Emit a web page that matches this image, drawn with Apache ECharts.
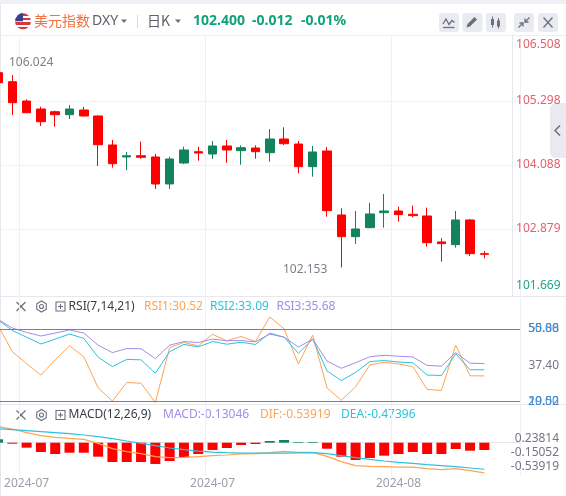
<!DOCTYPE html>
<html>
<head>
<meta charset="utf-8">
<title>美元指数 DXY 日K</title>
<script src="https://cdn.jsdelivr.net/npm/echarts@6.0.0/dist/echarts.min.js"></script>
<style>
  html, body { margin: 0; padding: 0; background: #ffffff; }
  #main { width: 566px; height: 496px; }
</style>
</head>
<body>
<div id="main"></div>
<script>
// 日K 行情
const dates = ['2024-07-02','2024-07-03','2024-07-04','2024-07-05','2024-07-08','2024-07-09','2024-07-10','2024-07-11','2024-07-12','2024-07-15','2024-07-16','2024-07-17','2024-07-18','2024-07-19','2024-07-22','2024-07-23','2024-07-24','2024-07-25','2024-07-26','2024-07-29','2024-07-30','2024-07-31','2024-08-01','2024-08-02','2024-08-05','2024-08-06','2024-08-07','2024-08-08','2024-08-09','2024-08-12','2024-08-13','2024-08-14','2024-08-15','2024-08-16','2024-08-19'];
const opens  = [105.833,105.663,105.298,105.147,105.096,105.039,105.128,105.015,104.467,104.240,104.264,104.240,103.730,104.126,104.340,104.296,104.448,104.359,104.410,104.321,104.580,104.485,104.057,104.353,103.144,102.734,102.904,103.187,103.219,103.157,103.125,102.634,102.583,103.049,102.412];
const closes = [105.644,105.266,105.077,104.907,105.039,105.147,105.015,104.472,104.113,104.264,104.234,103.730,104.202,104.372,104.315,104.448,104.372,104.416,104.340,104.580,104.491,104.057,104.334,103.225,102.734,102.879,103.163,103.219,103.150,103.131,102.620,102.602,103.049,102.412,102.400];
const lows   = [105.560,105.033,105.070,104.826,104.812,104.958,105.001,104.070,104.038,103.994,104.208,103.635,103.635,104.108,104.170,104.202,104.132,104.094,104.208,104.151,104.467,103.932,103.868,103.112,102.153,102.596,102.893,102.904,103.017,103.100,102.545,102.261,102.526,102.369,102.326];
const highs  = [106.024,105.789,105.330,105.190,105.115,105.222,105.185,105.028,104.561,104.334,104.529,104.296,104.245,104.434,104.434,104.542,104.561,104.461,104.461,104.769,104.801,104.542,104.448,104.429,103.270,103.219,103.371,103.541,103.301,103.320,103.282,102.704,103.219,103.062,102.464];

// RSI(7,14,21)
const rsi1 = [51.5,40.6,35.6,30.9,37.2,43.0,38.5,25.6,20.1,27.8,27.5,19.52,42.3,44.4,43.0,47.8,45.1,46.9,44.8,55.0,50.1,35.5,47.5,25.6,20.4,26.0,35.1,36.2,35.5,34.4,24.9,24.5,43.3,30.6,30.52];
const rsi2 = [53.8,49.4,46.6,43.8,45.8,47.9,46.1,38.3,34.4,37.4,37.2,31.6,40.6,43.6,42.6,44.8,43.7,44.5,43.6,48.3,46.6,39.9,45.8,32.6,28.6,32.0,36.5,36.9,36.3,36.0,30.9,30.7,39.7,33.1,33.09];
const rsi3 = [54.0,50.4,48.6,47.1,48.3,49.6,48.3,43.3,40.2,41.9,41.8,37.7,43.3,44.8,44.4,45.8,45.1,45.2,44.7,47.9,46.6,42.5,45.8,36.7,33.7,36.0,38.5,39.1,38.7,38.4,34.9,34.6,40.2,35.8,35.68];

// MACD(12,26,9)
const dif  = [0.290,0.244,0.179,0.125,0.095,0.077,0.060,-0.012,-0.107,-0.161,-0.196,-0.250,-0.268,-0.262,-0.250,-0.232,-0.220,-0.202,-0.196,-0.179,-0.155,-0.173,-0.173,-0.244,-0.339,-0.411,-0.423,-0.429,-0.435,-0.435,-0.464,-0.482,-0.464,-0.500,-0.53919];
const dea  = [0.247,0.232,0.214,0.196,0.179,0.161,0.137,0.107,0.071,0.030,-0.012,-0.054,-0.095,-0.125,-0.149,-0.167,-0.179,-0.185,-0.188,-0.188,-0.185,-0.182,-0.179,-0.196,-0.232,-0.268,-0.298,-0.327,-0.351,-0.369,-0.393,-0.411,-0.429,-0.452,-0.47396];
const macd = [0.060,-0.018,-0.089,-0.166,-0.202,-0.179,-0.179,-0.250,-0.345,-0.345,-0.345,-0.380,-0.327,-0.255,-0.202,-0.130,-0.095,-0.041,-0.023,0.030,0.048,0.012,0.012,-0.107,-0.250,-0.309,-0.273,-0.232,-0.202,-0.166,-0.202,-0.202,-0.113,-0.143,-0.13046];

// 坐标轴刻度
const priceTicks = [101.669, 102.879, 104.088, 105.298, 106.508];
const rsiTicks = [19.52, 37.40, 55.88];
const rsiLevels = [50, 20];
const macdTicks = [-0.53919, -0.15052, 0.23814];

const FONT = '"Noto Sans", "Noto Sans CJK SC", sans-serif';
const green = '#13835b';
const red = '#ff0000';
const upText = '#e5606c';
const downText = '#1aa884';
const axisGray = '#737784';
const iconGray = '#6c707c';
const c1 = '#ffa352', c2 = '#2bc3de', c3 = '#a68be8';
const refBlue = '#3591e6';

const cats = dates.concat(['', '']);
const ohlc = dates.map((d, i) => [opens[i], closes[i], lows[i], highs[i]]);
const n = dates.length;
const lastClose = closes[n - 1];
const change = lastClose - closes[n - 2];
const changePct = change / closes[n - 2] * 100;
const fmtSigned = (v, d) => (v > 0 ? '+' : '') + v.toFixed(d);

const showIdx = (i) => i % 13 === 2;

// 价格刻度：上下两端的标签往里收
const priceRich = {};
[['u', upText], ['d', downText]].forEach(([k, c]) => {
  priceRich[k + 'T'] = { color: c, fontSize: 12, fontFamily: FONT, padding: [16, 0, 0, 0] };
  priceRich[k + 'M'] = { color: c, fontSize: 12, fontFamily: FONT };
  priceRich[k + 'B'] = { color: c, fontSize: 12, fontFamily: FONT, padding: [0, 0, 14, 0] };
});
const priceLabel = (val) => {
  const v = Number(val);
  const c = v >= lastClose ? 'u' : 'd';
  const top = Math.abs(v - priceTicks[priceTicks.length - 1]) < 1e-6;
  const bottom = Math.abs(v - priceTicks[0]) < 1e-6;
  const p = top ? 'T' : bottom ? 'B' : 'M';
  return '{' + c + p + '|' + v.toFixed(3) + '}';
};

const xAxisFor = (gi, withLabel) => ({
  type: 'category', gridIndex: gi, data: cats, boundaryGap: true,
  axisLine: { show: withLabel, lineStyle: { color: '#e4e6eb' } },
  axisTick: { show: false },
  axisLabel: {
    show: withLabel, interval: showIdx, formatter: (v) => v.slice(0, 7),
    color: '#9a9ea8', fontSize: 12, fontFamily: FONT, margin: 2
  },
  splitLine: { show: true, interval: showIdx, lineStyle: { color: '#eef0f4', width: 1 } }
});

const gridBase = { left: -9.15, right: 45.9, outerBoundsMode: 'none', containLabel: false };

// 顶部与面板标题的小图标
const ln = (x1, y1, x2, y2, color, w) => ({
  type: 'line', silent: true, shape: { x1, y1, x2, y2 },
  style: { stroke: color, lineWidth: w || 1 }
});
const txt = (x, y, text, color, font) => ({
  type: 'text', silent: true, x, y,
  style: { text, fill: color, font: font || ('12px ' + FONT), verticalAlign: 'middle', align: 'left' }
});
const panelIcons = (yc) => {
  const hex = [];
  for (let i = 0; i < 6; i++) {
    const a = Math.PI / 6 + i * Math.PI / 3;
    hex.push([41.5 + 5.5 * Math.cos(a), yc + 5.5 * Math.sin(a)]);
  }
  return [
    ln(16.5, yc - 4.5, 25.5, yc + 4.5, iconGray, 1.2),
    ln(25.5, yc - 4.5, 16.5, yc + 4.5, iconGray, 1.2),
    { type: 'polygon', silent: true, shape: { points: hex }, style: { fill: 'none', stroke: iconGray, lineWidth: 1.1 } },
    { type: 'circle', silent: true, shape: { cx: 41.5, cy: yc, r: 2 }, style: { fill: 'none', stroke: iconGray, lineWidth: 1.1 } },
    { type: 'rect', silent: true, shape: { x: 56, y: yc - 4.5, width: 9, height: 9 }, style: { fill: 'none', stroke: iconGray, lineWidth: 1.1 } },
    ln(58, yc, 63, yc, iconGray, 1.1),
    ln(60.5, yc - 2.5, 60.5, yc + 2.5, iconGray, 1.1)
  ];
};

const stripeStops = [];
for (let i = 0; i < 7; i++) {
  const col = i % 2 === 0 ? '#d9363e' : '#ffffff';
  stripeStops.push({ offset: i / 7, color: col }, { offset: (i + 1) / 7, color: col });
}

const buttons = [439, 462.5, 486, 514, 538].map((x) => ({
  type: 'rect', silent: true, shape: { x, y: 13, width: 20, height: 19, r: 3 },
  style: { fill: '#e9ebf0' }
}));

const graphics = [
  { type: 'rect', silent: true, shape: { x: 0, y: 0, width: 566, height: 4 }, style: { fill: '#edf0f5' } },
  ln(0.5, 4, 0.5, 496, '#e3e6ed'),
  ln(0, 35.5, 566, 35.5, '#eceef2'),
  ln(0, 296.5, 566, 296.5, '#e6e8ed'),
  ln(0, 404.5, 566, 404.5, '#e6e8ed'),
  // 国旗
  { type: 'circle', silent: true, shape: { cx: 23, cy: 21.3, r: 8 },
    style: { fill: new echarts.graphic.LinearGradient(0, 0, 0, 1, stripeStops) } },
  { type: 'sector', silent: true, shape: { cx: 23, cy: 21.3, r: 8, r0: 0, startAngle: Math.PI, endAngle: Math.PI * 1.5 },
    style: { fill: '#3b3f8f' } },
  txt(34, 21, '美元指数', '#f5703c', '14px "Noto Sans CJK SC", sans-serif'),
  txt(92, 21, 'DXY', '#5d616c', '14px ' + FONT),
  { type: 'polygon', silent: true, shape: { points: [[121, 19.5], [127, 19.5], [124, 23]] }, style: { fill: '#6c707c' } },
  ln(137.5, 15, 137.5, 28, '#d8dbe1'),
  txt(147, 21, '日K', '#5d616c', '14px "Noto Sans CJK SC", sans-serif'),
  { type: 'polygon', silent: true, shape: { points: [[175, 19.5], [181, 19.5], [178, 23]] }, style: { fill: '#6c707c' } },
  txt(193, 21, lastClose.toFixed(3), '#12a27a', 'bold 14px ' + FONT),
  txt(252, 21, fmtSigned(change, 3), '#12a27a', 'bold 14px ' + FONT),
  txt(301, 21, fmtSigned(changePct, 2) + '%', '#12a27a', 'bold 14px ' + FONT),
  ...buttons,
  // 指标
  { type: 'polyline', silent: true, shape: { points: [[443, 24], [446, 19], [449, 24.5], [452, 20.5], [454.5, 22.5]] }, style: { fill: 'none', stroke: iconGray, lineWidth: 1.3 } },
  ln(443, 27.5, 454.5, 27.5, iconGray, 1.3),
  // 画线
  { type: 'polygon', silent: true, shape: { points: [[466.5, 27.5], [467.5, 24], [474.5, 17], [477, 19.5], [470, 26.5]] }, style: { fill: iconGray } },
  // K线
  ln(492.5, 16.5, 492.5, 27.5, iconGray, 1),
  { type: 'rect', silent: true, shape: { x: 491, y: 19, width: 3, height: 6 }, style: { fill: iconGray } },
  ln(498.5, 18, 498.5, 28.5, iconGray, 1),
  { type: 'rect', silent: true, shape: { x: 497, y: 20.5, width: 3, height: 6 }, style: { fill: iconGray } },
  // 缩小
  ln(518.5, 27.5, 523, 23, iconGray, 1.3),
  { type: 'polyline', silent: true, shape: { points: [[519.5, 23], [523, 23], [523, 26.5]] }, style: { fill: 'none', stroke: iconGray, lineWidth: 1.3 } },
  ln(529.5, 17.5, 525, 22, iconGray, 1.3),
  { type: 'polyline', silent: true, shape: { points: [[525, 18.5], [525, 22], [528.5, 22]] }, style: { fill: 'none', stroke: iconGray, lineWidth: 1.3 } },
  // 关闭
  ln(543.5, 17.5, 552.5, 27.5, iconGray, 1.3),
  ln(552.5, 17.5, 543.5, 27.5, iconGray, 1.3),
  // 右侧收起
  { type: 'rect', silent: true, shape: { x: 550, y: 103, width: 16, height: 55, r: [6, 0, 0, 6] }, style: { fill: '#e9eaf0' } },
  { type: 'polyline', silent: true, shape: { points: [[560, 125.5], [555, 130.5], [560, 135.5]] }, style: { fill: 'none', stroke: iconGray, lineWidth: 1.5 } },
  // RSI 标题
  ...panelIcons(306.5),
  txt(68.6, 306.5, 'RSI(7,14,21)', '#3a3d45'),
  txt(144, 306.5, 'RSI1:' + rsi1[n - 1].toFixed(2), c1),
  txt(210, 306.5, 'RSI2:' + rsi2[n - 1].toFixed(2), c2),
  txt(276.5, 306.5, 'RSI3:' + rsi3[n - 1].toFixed(2), c3),
  // MACD 标题
  ...panelIcons(415),
  txt(68.6, 415, 'MACD(12,26,9)', '#3a3d45'),
  txt(163, 415, 'MACD:' + macd[n - 1].toFixed(5), c3),
  txt(260, 415, 'DIF:' + dif[n - 1].toFixed(5), c1),
  txt(341, 415, 'DEA:' + dea[n - 1].toFixed(5), c2)
];

const option = {
  animation: false,
  backgroundColor: '#ffffff',
  textStyle: { fontFamily: FONT },
  grid: [
    Object.assign({ top: 35, height: 262 }, gridBase),
    Object.assign({ top: 297, height: 107 }, gridBase),
    Object.assign({ top: 404, height: 72 }, gridBase)
  ],
  xAxis: [xAxisFor(0, false), xAxisFor(1, false), xAxisFor(2, true)],
  yAxis: [
    {
      type: 'value', gridIndex: 0, position: 'right', offset: -8, scale: true,
      min: 101.593, max: 106.546,
      axisLine: { show: true, lineStyle: { color: '#e4e6eb' } },
      axisTick: { show: false, customValues: priceTicks.slice(1, -1) },
      splitLine: { show: true, lineStyle: { color: '#f1f2f5' } },
      axisLabel: { customValues: priceTicks, margin: 4, formatter: priceLabel, rich: priceRich }
    },
    { type: 'value', gridIndex: 1, show: false, min: 18.88, max: 63.28 },
    {
      type: 'value', gridIndex: 1, position: 'right', offset: -8, min: 18.381, max: 71.385,
      axisLine: { show: false }, axisTick: { show: false }, splitLine: { show: false },
      axisLabel: { customValues: rsiTicks, formatter: (v) => Number(v).toFixed(2), align: 'right', margin: 47,
        color: axisGray, fontSize: 12, fontFamily: FONT }
    },
    { type: 'value', gridIndex: 2, show: false, min: -0.595, max: 0.691 },
    {
      type: 'value', gridIndex: 2, position: 'right', offset: -8, min: -0.800, max: 1.2205,
      axisLine: { show: false }, axisTick: { show: false }, splitLine: { show: false },
      axisLabel: { customValues: macdTicks, formatter: (v) => Number(v).toFixed(5), align: 'right', margin: 47,
        color: axisGray, fontSize: 12, fontFamily: FONT }
    }
  ],
  series: [
    {
      type: 'candlestick', name: 'DXY', xAxisIndex: 0, yAxisIndex: 0, data: ohlc, barWidth: 9,
      itemStyle: { color: green, color0: red, borderColor: green, borderColor0: red, borderWidth: 1 },
      markPoint: {
        symbol: 'circle', symbolSize: 0, silent: true,
        label: { color: '#7d818c', fontSize: 12, fontFamily: FONT, formatter: (p) => Number(p.value).toFixed(3) },
        data: [
          { type: 'max', valueDim: 'highest', label: { position: 'right', distance: 11 } },
          { type: 'min', valueDim: 'lowest', label: { position: 'left', distance: 14, offset: [0, 2] } }
        ]
      }
    },
    {
      type: 'line', name: 'RSI1', xAxisIndex: 1, yAxisIndex: 1, data: rsi1, symbol: 'none',
      lineStyle: { color: c1, width: 1 },
      markLine: {
        silent: true, symbol: ['none', 'none'],
        lineStyle: { color: refBlue, type: 'solid', width: 1.2 },
        label: { position: 'end', distance: 8, color: refBlue, fontSize: 12, fontFamily: FONT,
          formatter: (p) => Number(p.value).toFixed(2) },
        data: rsiLevels.map((v) => ({
          yAxis: v,
          lineStyle: { color: refBlue, type: 'solid', width: 1.2 },
          label: { color: refBlue }
        }))
      }
    },
    { type: 'line', name: 'RSI2', xAxisIndex: 1, yAxisIndex: 1, data: rsi2, symbol: 'none', lineStyle: { color: c2, width: 1 } },
    { type: 'line', name: 'RSI3', xAxisIndex: 1, yAxisIndex: 1, data: rsi3, symbol: 'none', lineStyle: { color: c3, width: 1 } },
    {
      type: 'bar', name: 'MACD', xAxisIndex: 2, yAxisIndex: 3, data: macd, barWidth: 10,
      itemStyle: { color: (p) => (p.value >= 0 ? green : red) }
    },
    { type: 'line', name: 'DIF', xAxisIndex: 2, yAxisIndex: 3, data: dif, symbol: 'none', lineStyle: { color: c1, width: 1.2 } },
    { type: 'line', name: 'DEA', xAxisIndex: 2, yAxisIndex: 3, data: dea, symbol: 'none', lineStyle: { color: c2, width: 1.2 } }
  ],
  graphic: graphics
};

const chart = echarts.init(document.getElementById('main'));
chart.setOption(option);
</script>
</body>
</html>
